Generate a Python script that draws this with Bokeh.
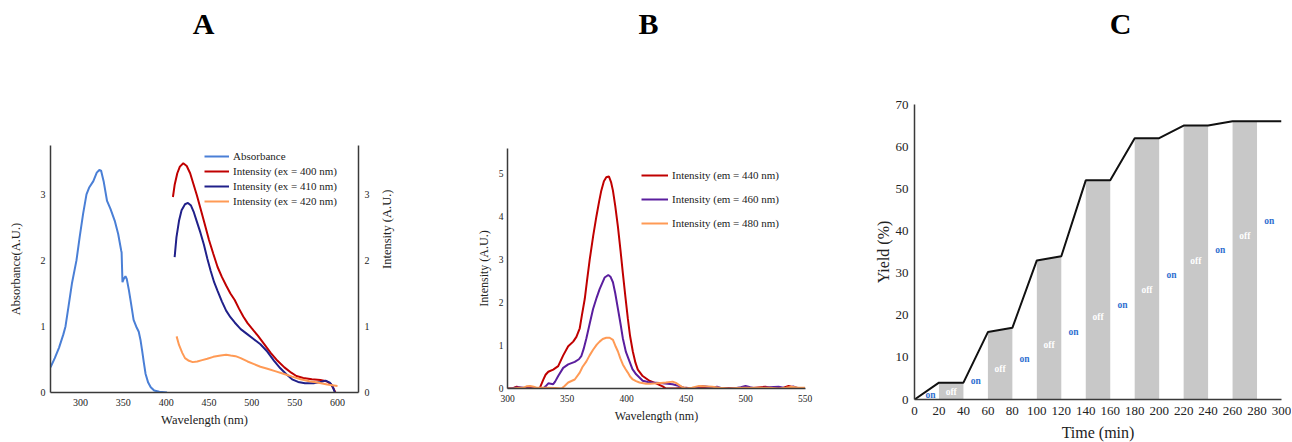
import math
from bokeh.plotting import figure
from bokeh.models import Range1d, LinearAxis, Legend, LegendItem, FixedTicker
from bokeh.layouts import row, column
from bokeh.core.properties import value
from bokeh.embed import file_html
from bokeh.resources import INLINE

SERIF = "Liberation Serif"

panel_letters = ["A", "B", "C"]

# ---------------- Panel A data ----------------
abs_nm = [265, 270, 275, 280, 282.5, 286, 290, 295.3, 299, 303, 307, 310, 315, 319, 322, 324,
          327, 331, 335, 340, 344, 347.5, 348, 349, 350.5, 352.5, 354, 356.5, 359, 362, 365,
          368, 370, 372, 374, 376, 379, 382, 386, 392, 401]
abs_val = [0.38, 0.52, 0.68, 0.88, 1.0, 1.3, 1.65, 2.0, 2.35, 2.7, 3.0, 3.1, 3.2, 3.33, 3.37, 3.36,
           3.2, 2.9, 2.78, 2.6, 2.4, 2.15, 2.12, 1.67, 1.72, 1.76, 1.72, 1.55, 1.35, 1.1, 1.0,
           0.92, 0.8, 0.63, 0.45, 0.28, 0.15, 0.08, 0.03, 0.01, 0.0]

ex400_nm = [407.9, 410, 413, 416, 420, 424, 428, 432, 436, 440, 445, 450, 455, 460, 465, 470, 475,
            480, 485, 490, 495, 500, 507, 514, 522, 530, 538, 546, 552, 560, 570, 580, 587, 592,
            595, 597.5]
ex400_val = [2.96, 3.15, 3.32, 3.42, 3.47, 3.43, 3.32, 3.15, 2.98, 2.79, 2.55, 2.31, 2.1, 1.9, 1.75,
             1.62, 1.5, 1.4, 1.27, 1.15, 1.05, 0.97, 0.86, 0.74, 0.6, 0.48, 0.38, 0.3, 0.25, 0.22,
             0.2, 0.19, 0.17, 0.13, 0.07, 0.0]

ex410_nm = [409.9, 412, 415, 418, 422, 425.4, 429, 432, 436, 440, 444, 448, 452, 456, 460, 465, 470,
            475, 480, 487, 495, 502, 510, 518, 526, 533, 540, 547, 554, 562, 572, 580, 586, 591,
            594, 597]
ex410_val = [2.05, 2.35, 2.6, 2.76, 2.85, 2.87, 2.83, 2.74, 2.58, 2.42, 2.24, 2.03, 1.84, 1.67, 1.54,
             1.38, 1.24, 1.14, 1.06, 0.96, 0.88, 0.81, 0.73, 0.62, 0.48, 0.37, 0.28, 0.2, 0.16, 0.14,
             0.14, 0.16, 0.18, 0.15, 0.1, 0.0]

ex420_nm = [412.2, 415, 418.8, 422, 426.6, 431, 436.3, 442, 448, 455, 463.6, 470, 475.3, 481, 487,
            495, 502.6, 510, 518.2, 528, 537.7, 547, 557.1, 567, 576.6, 588, 600]
ex420_val = [0.85, 0.72, 0.6, 0.52, 0.48, 0.46, 0.47, 0.49, 0.51, 0.54, 0.56, 0.57, 0.56, 0.55, 0.52,
             0.47, 0.43, 0.39, 0.36, 0.32, 0.28, 0.24, 0.2, 0.17, 0.15, 0.12, 0.1]

# ---------------- Panel B data ----------------
em440_nm = [300, 304, 307.8, 311, 313, 316, 320, 324.5, 327.3, 330, 332, 334.3, 338.4, 342.6, 346.8,
            351, 355.2, 357.9, 360.7, 362.5, 364.9, 367, 369.1, 372, 374.7, 377, 378.8, 381, 383,
            385.2, 387, 388.6, 390.5, 392.8, 395, 396.9, 399, 401.1, 403, 405.3, 407.5, 409.5,
            413.6, 419.2, 424.8, 428, 430.4, 433.1, 441.5, 446, 450, 455, 463.8, 472, 485, 500,
            508, 516.7, 522, 527.8, 532, 536.2, 540, 544.6, 550]
em440_val = [0, 0, 0.04, 0.01, 0, 0.02, 0.01, 0, 0.02, 0.2, 0.32, 0.39, 0.44, 0.52, 0.77,
             0.98, 1.09, 1.2, 1.4, 1.7, 2.08, 2.55, 3.0, 3.55, 4.0, 4.35, 4.6, 4.82, 4.91,
             4.93, 4.8, 4.6, 4.25, 3.76, 3.2, 2.69, 2.15, 1.63, 1.22, 0.86, 0.6, 0.44,
             0.29, 0.18, 0.12, 0.08, 0.05, 0, 0, 0.01, 0.02, 0, 0.02, 0, 0.01, 0,
             0.02, 0.04, 0.01, 0, 0.02, 0.06, 0.03, 0, 0]

em460_nm = [300, 305, 310, 315, 319, 330, 332, 334.3, 338.4, 340, 342.6, 346.8, 351, 356.5, 360, 362,
            364, 366.3, 369, 371.9, 375, 377.4, 381.6, 384.7, 386.5, 388.6, 390.5, 392.8, 395,
            396.9, 399.5, 402.5, 405, 408.1, 413.6, 418, 422, 430.4, 438.7, 444.3, 448, 452.6,
            458, 463.8, 468, 472, 476, 480.5, 490, 496, 500, 504, 508.4, 515, 520, 527.8, 535,
            540, 544.6, 550]
em460_val = [0, 0.01, 0.03, 0.01, 0, 0, 0.05, 0.12, 0.1, 0.16, 0.29, 0.48, 0.56, 0.62, 0.68, 0.75,
             0.92, 1.17, 1.5, 1.85, 2.12, 2.31, 2.58, 2.64, 2.6, 2.47, 2.22, 1.85, 1.5,
             1.17, 0.85, 0.63, 0.45, 0.33, 0.18, 0.15, 0.14, 0.12, 0.1, 0.06, 0.02, 0,
             0.02, 0.06, 0.04, 0.02, 0.04, 0, 0, 0.03, 0.06, 0.03, 0, 0.02, 0.03, 0.04, 0.0,
             0.05, 0, 0]

em480_nm = [300, 305, 310, 313.4, 316, 319, 322, 324.5, 332.9, 340, 345.4, 348, 351, 356.5, 360.7,
            363, 366.3, 369, 371.9, 375, 377.4, 380, 383, 385.8, 388.6, 390.5, 392.8, 394.8,
            396.9, 399, 401.1, 403, 405.3, 408, 410.9, 416.4, 420, 424.8, 429, 433.1, 438.7,
            441.5, 444.3, 447, 450, 455, 461, 466, 472, 478, 486, 493, 500, 510, 520, 527.8,
            534, 539, 544.6, 550]
em480_val = [0, 0, 0.02, 0.02, 0.05, 0.06, 0.04, 0.02, 0.02, 0.01, 0, 0.06, 0.14, 0.21, 0.37,
             0.5, 0.63, 0.77, 0.9, 1.02, 1.09, 1.15, 1.18, 1.18, 1.13, 1.0, 0.86, 0.7,
             0.56, 0.46, 0.37, 0.28, 0.21, 0.17, 0.14, 0.11, 0.11, 0.12, 0.13, 0.14, 0.16,
             0.13, 0.08, 0.03, 0, 0.02, 0.06, 0.05, 0.04, 0.02, 0, 0.01, 0.02, 0.01, 0.02, 0,
             0.02, 0.04, 0.02, 0.02]

# ---------------- Panel C data ----------------
time_min = [0, 20, 40, 60, 80, 100, 120, 140, 160, 180, 200, 220, 240, 260, 280, 300]
yield_pct = [0, 4, 4, 16, 17, 33, 34, 52, 52, 62, 62, 65, 65, 66, 66, 66]
on_label_y = [1.0, 4.4, 9.7, 15.9, 22.5, 29.6, 35.4, 42.3]
off_label_y = [1.7, 7.3, 12.9, 19.5, 26.1, 32.8, 38.8]

AXIS_COLOR = "#3a3a3a"
TOTAL_W = 1291
TITLE_H = 44


def style(p, tick_size, label_size, tick_standoff, label_standoff):
    p.outline_line_color = None
    p.xgrid.visible = False
    p.ygrid.visible = False
    p.background_fill_color = "white"
    p.border_fill_color = "white"
    p.frame_align = False
    for ax in p.axis:
        ax.axis_line_color = AXIS_COLOR
        ax.axis_line_width = 1.5
        ax.major_tick_line_color = None
        ax.minor_tick_line_color = None
        ax.major_tick_out = 0
        ax.major_tick_in = 0
        ax.minor_tick_out = 0
        ax.major_label_text_font = SERIF
        ax.major_label_text_font_size = tick_size
        ax.major_label_text_color = "#222222"
        ax.axis_label_text_font = SERIF
        ax.axis_label_text_font_size = label_size
        ax.axis_label_text_font_style = "normal"
        ax.axis_label_text_color = "#222222"
        ax.major_label_standoff = tick_standoff
        ax.axis_label_standoff = label_standoff


def legend_style(lg, spacing):
    lg.border_line_color = None
    lg.background_fill_alpha = 0
    lg.label_text_font = SERIF
    lg.label_text_font_size = "11px"
    lg.label_text_color = "#222222"
    lg.glyph_height = 14
    lg.label_height = 14
    lg.spacing = spacing
    lg.padding = 4
    lg.margin = 0
    lg.label_standoff = 4


# ================= Title strip =================
pT = figure(width=TOTAL_W, height=TITLE_H, x_range=Range1d(0, TOTAL_W), y_range=Range1d(TITLE_H, 0),
            min_border=0, output_backend="svg", toolbar_location=None, tools="")
pT.axis.visible = False
pT.xgrid.visible = False
pT.ygrid.visible = False
pT.outline_line_color = None
pT.frame_align = False
pT.text(x=[203, 648, 1120], y=[23, 23, 23], text=panel_letters, text_font=value(SERIF),
        text_font_size="30px", text_font_style="bold", text_color="black",
        text_align="center", text_baseline="middle")

# ================= Panel A =================
pA = figure(frame_width=308, frame_height=247, min_border_left=50, min_border_right=82,
            min_border_top=101, min_border_bottom=50,
            x_range=Range1d(265, 624.5), y_range=Range1d(0, 3.74),
            output_backend="svg", toolbar_location=None, tools="")
pA.extra_y_ranges = {"int": Range1d(0, 3.74)}
pA.add_layout(LinearAxis(y_range_name="int", axis_label="Intensity (A.U.)"), "right")
pA.xaxis.axis_label = "Wavelength (nm)"
pA.yaxis[0].axis_label = "Absorbance(A.U.)"
style(pA, "10px", "12.5px", 6, 4)
pA.xaxis.ticker = FixedTicker(ticks=[300, 350, 400, 450, 500, 550, 600])
for ax in pA.yaxis:
    ax.ticker = FixedTicker(ticks=[0, 1, 2, 3])
pA.yaxis[0].major_label_standoff = 5
pA.yaxis[0].axis_label_standoff = 15
pA.yaxis[1].major_label_standoff = 6
pA.yaxis[1].axis_label_standoff = 14
pA.yaxis[1].axis_label_orientation = math.pi / 2

rA1 = pA.line(abs_nm, abs_val, line_color="#4a7fd6", line_width=2)
rA2 = pA.line(ex400_nm, ex400_val, line_color="#c00000", line_width=2, y_range_name="int")
rA3 = pA.line(ex410_nm, ex410_val, line_color="#20208a", line_width=2, y_range_name="int")
rA4 = pA.line(ex420_nm, ex420_val, line_color="#ff9a55", line_width=2, y_range_name="int")
lgA = Legend(items=[LegendItem(label="Absorbance", renderers=[rA1]),
                    LegendItem(label="Intensity (ex = 400 nm)", renderers=[rA2]),
                    LegendItem(label="Intensity (ex = 410 nm)", renderers=[rA3]),
                    LegendItem(label="Intensity (ex = 420 nm)", renderers=[rA4])],
             location=(154, 184))
legend_style(lgA, 1)
lgA.glyph_width = 25
pA.add_layout(lgA)

# ================= Panel B =================
pB = figure(frame_width=298, frame_height=240, min_border_left=67, min_border_right=57,
            min_border_top=104, min_border_bottom=54,
            x_range=Range1d(300, 550.4), y_range=Range1d(0, 5.58),
            output_backend="svg", toolbar_location=None, tools="")
pB.xaxis.axis_label = "Wavelength (nm)"
pB.yaxis.axis_label = "Intensity (A.U.)"
style(pB, "9.5px", "12px", 6, 4)
pB.xaxis.ticker = FixedTicker(ticks=[300, 350, 400, 450, 500, 550])
pB.yaxis.ticker = FixedTicker(ticks=[0, 1, 2, 3, 4, 5])
pB.yaxis.major_label_standoff = 4
pB.yaxis.axis_label_standoff = 5

rB1 = pB.line(em440_nm, em440_val, line_color="#c00000", line_width=2)
rB2 = pB.line(em460_nm, em460_val, line_color="#5a1e9e", line_width=2)
rB3 = pB.line(em480_nm, em480_val, line_color="#ff9a55", line_width=2)
lgB = Legend(items=[LegendItem(label="Intensity (em = 440 nm)", renderers=[rB1]),
                    LegendItem(label="Intensity (em = 460 nm)", renderers=[rB2]),
                    LegendItem(label="Intensity (em = 480 nm)", renderers=[rB3])],
             location=(134, 158))
legend_style(lgB, 10)
lgB.glyph_width = 27
pB.add_layout(lgB)

# ================= Panel C =================
pC = figure(frame_width=367, frame_height=295, min_border_left=52, min_border_right=10,
            min_border_top=60, min_border_bottom=43,
            x_range=Range1d(0, 300), y_range=Range1d(0, 70),
            output_backend="svg", toolbar_location=None, tools="")
pC.xaxis.axis_label = "Time (min)"
pC.yaxis.axis_label = "Yield (%)"
style(pC, "13px", "16px", 7, 6)
pC.xaxis.ticker = FixedTicker(ticks=time_min)
pC.yaxis.ticker = FixedTicker(ticks=[0, 10, 20, 30, 40, 50, 60, 70])
pC.yaxis.major_label_standoff = 6
pC.yaxis.axis_label_standoff = 1

off_xs, off_ys, off_mid = [], [], []
on_mid = []
for i in range(len(time_min) - 1):
    mid = (time_min[i] + time_min[i + 1]) / 2
    if i % 2 == 1:
        off_xs.append([time_min[i], time_min[i], time_min[i + 1], time_min[i + 1]])
        off_ys.append([0, yield_pct[i], yield_pct[i + 1], 0])
        off_mid.append(mid)
    else:
        on_mid.append(mid)
on_mid[0] = on_mid[0] + 3

pC.patches(off_xs, off_ys, fill_color="#c8c8c8", line_color=None)
pC.line(time_min, yield_pct, line_color="#111111", line_width=2)
pC.text(x=on_mid, y=on_label_y, text=["on"] * len(on_mid), text_font=value(SERIF),
        text_font_size="9.5px", text_font_style="bold", text_color="#2f6fd0",
        text_align="center", text_baseline="middle")
pC.text(x=off_mid, y=off_label_y, text=["off"] * len(off_mid), text_font=value(SERIF),
        text_font_size="9.5px", text_font_style="bold", text_color="white",
        text_align="center", text_baseline="middle")

layout = column(pT, row(pA, pB, pC))
open("out.html", "w").write(file_html(layout, INLINE))
